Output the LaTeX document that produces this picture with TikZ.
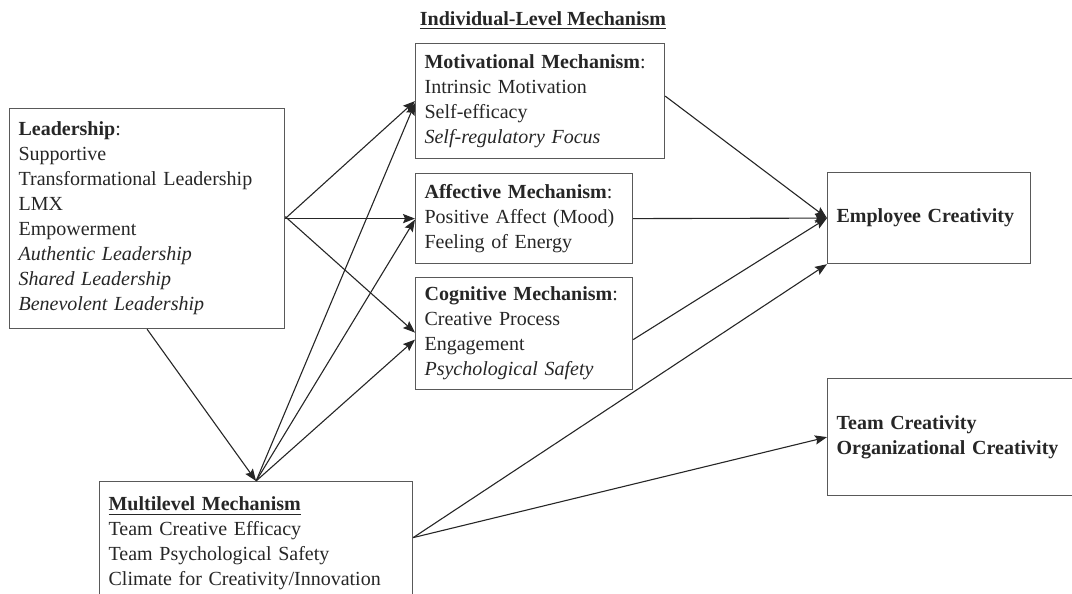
\documentclass[tikz,border=0pt]{standalone}
\usepackage{fontspec}
\setmainfont{Liberation Serif}
\usetikzlibrary{arrows.meta}

\begin{document}
\begin{tikzpicture}[
    x=0.5pt, y=-0.5pt,
    box/.style={draw=black!65, line width=0.6pt, anchor=north west, align=left,
        inner xsep=4.5pt, inner ysep=3pt, text=black!85,
        font=\fontsize{10}{12.5}\selectfont},
    arr/.style={-{Stealth[length=6pt, width=4.6pt, inset=1pt]}, line width=0.55pt, black!85}
]
    \useasboundingbox (0,0) rectangle (1072,594);

    \node[font=\fontsize{10}{12.5}\selectfont\bfseries, text=black!85] (T) at (543,21) {\underline{Individual-Level Mechanism}};

    \node[box, text width=128.5pt, minimum height=110pt] (L) at (9,108)
        {\textbf{Leadership}:\\ Supportive\\ Transformational Leadership\\ LMX\\ Empowerment\\
         \textit{Authentic Leadership}\\ \textit{Shared Leadership}\\ \textit{Benevolent Leadership}};

    \node[box, text width=115.5pt, minimum height=57.5pt] (M1) at (415,43)
        {\textbf{Motivational Mechanism}:\\ Intrinsic Motivation\\ Self-efficacy\\ \textit{Self-regulatory Focus}};
    \node[box, text width=99.5pt, minimum height=45pt] (M2) at (415,173)
        {\textbf{Affective Mechanism}:\\ Positive Affect (Mood)\\ Feeling of Energy};
    \node[box, text width=99.5pt, minimum height=56pt] (M3) at (415,277)
        {\textbf{Cognitive Mechanism}:\\ Creative Process\\ Engagement\\ \textit{Psychological Safety}};

    \node[box, text width=147.5pt, minimum height=62pt] (ML) at (99,481)
        {\textbf{\underline{Multilevel Mechanism}}\\ Team Creative Efficacy\\ Team Psychological Safety\\ Climate for Creativity/Innovation};

    \node[box, text width=92.5pt, minimum height=45.5pt, font=\fontsize{10}{12.5}\selectfont\bfseries] (EC) at (827,172)
        {Employee Creativity};
    \node[box, text width=135pt, minimum height=58.5pt, font=\fontsize{10}{12.5}\selectfont\bfseries] (TC) at (827,378)
        {Team Creativity\\ Organizational Creativity};

    \draw[arr] (L.east) -- (M1.west);
    \draw[arr] (L.east) -- (M2.west);
    \draw[arr] ([yshift=1pt]L.east) -- ([yshift=0.5pt]M3.west);
    \draw[arr] (L.south) -- (ML.north);

    \draw[arr] (ML.north) -- ([yshift=-1pt]M1.west);
    \draw[arr] (ML.north) -- ([yshift=-0.5pt]M2.west);
    \draw[arr] (ML.north) -- ([yshift=-3pt]M3.west);

    \draw[arr] ([yshift=2.5pt]M1.east) -- (EC.west);
    \draw[arr] (M2.east) -- (EC.west);
    \draw[arr] ([yshift=-3pt]M3.east) -- (EC.west);
    \draw[arr] ([yshift=3pt]ML.east) -- (EC.south west);
    \draw[arr] ([yshift=3pt]ML.east) -- (TC.west);
\end{tikzpicture}
\end{document}
